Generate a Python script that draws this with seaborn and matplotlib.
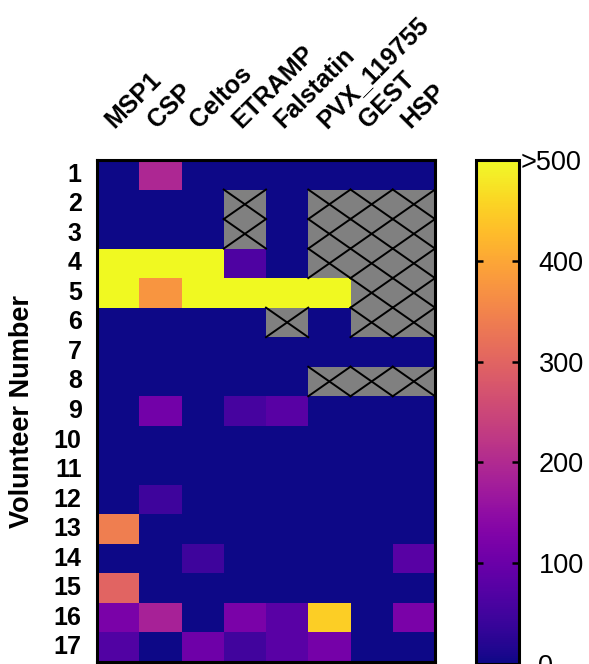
import numpy as np
import pandas as pd
import seaborn as sns
import matplotlib.pyplot as plt
from matplotlib.transforms import ScaledTranslation

plt.rcParams['font.family'] = ['Liberation Sans', 'DejaVu Sans']

antigens = ['MSP1', 'CSP', 'Celtos', 'ETRAMP', 'Falstatin', 'PVX_119755', 'GEST', 'HSP']
volunteers = [str(i) for i in range(1, 18)]
nan = np.nan

# one list per antigen, volunteers 1-17 (500 = ">500", nan = not tested)
msp1 = [0, 0, 0, 500, 500, 0, 0, 0, 0, 0, 0, 0, 340, 0, 300, 120, 70]
csp = [195, 0, 0, 500, 375, 0, 0, 0, 110, 0, 0, 45, 0, 0, 0, 185, 0]
celtos = [0, 0, 0, 500, 500, 0, 0, 0, 0, 0, 0, 0, 0, 45, 0, 0, 105]
etramp = [0, nan, nan, 65, 500, 0, 0, 0, 55, 0, 0, 0, 0, 0, 0, 120, 50]
falstatin = [0, 0, 0, 0, 500, nan, 0, 0, 78, 0, 0, 0, 0, 0, 0, 80, 80]
pvx = [0, nan, nan, nan, 500, 0, 0, nan, 0, 0, 0, 0, 0, 0, 0, 450, 115]
gest = [0, nan, nan, nan, nan, nan, 0, nan, 0, 0, 0, 0, 0, 0, 0, 0, 0]
hsp = [0, nan, nan, nan, nan, nan, 0, nan, 0, 0, 0, 0, 0, 78, 0, 120, 0]

cbar_ticks = [0, 100, 200, 300, 400, 500]
cbar_labels = ['0', '100', '200', '300', '400', '>500']

df = pd.DataFrame(dict(zip(antigens, [msp1, csp, celtos, etramp, falstatin, pvx, gest, hsp])),
                  index=volunteers)

fig = plt.figure(figsize=(5.89, 6.64), dpi=100)
ax = fig.add_axes([97/589, 2/664, 338/589, 502/664])
cax = fig.add_axes([476/589, 0/664, 43/589, 504/664])

sns.heatmap(df, cmap='plasma', vmin=0, vmax=500, ax=ax, cbar_ax=cax,
            mask=df.isna(), cbar_kws={'ticks': cbar_ticks})
ax.set_facecolor('#808080')

# cross out the missing cells
vals = df.to_numpy()
for i in range(vals.shape[0]):
    for j in range(vals.shape[1]):
        if np.isnan(vals[i, j]):
            ax.plot([j, j + 1], [i, i + 1], color='k', lw=1.4)
            ax.plot([j, j + 1], [i + 1, i], color='k', lw=1.4)

for spine in ax.spines.values():
    spine.set_visible(True)
    spine.set_linewidth(2.2)
    spine.set_color('k')

ax.xaxis.tick_top()
ax.set_xticklabels(antigens, rotation=45, ha='left', va='bottom',
                   rotation_mode='anchor', fontweight='bold', fontsize=18)
for lab in ax.get_xticklabels():
    lab.set_transform(lab.get_transform() + ScaledTranslation(0.07, 0, fig.dpi_scale_trans))
ax.set_yticklabels(volunteers, rotation=0, fontweight='bold', fontsize=18)
ax.tick_params(axis='x', length=0, pad=20)
ax.tick_params(axis='y', length=0, pad=11)
ax.set_xlabel('')
ax.set_ylabel('Volunteer Number', fontweight='bold', fontsize=19.5)
ax.yaxis.set_label_coords(-0.183, 0.5)

cbar = ax.collections[0].colorbar
cbar.outline.set_linewidth(2.2)
cbar.outline.set_edgecolor('k')
cax.set_yticks(cbar_ticks)
cax.set_yticklabels(cbar_labels, fontsize=19.5)
cax.tick_params(direction='in', length=5, width=1.8, left=True, right=True, pad=14)
top = cax.get_yticklabels()[-1]
top.set_transform(top.get_transform() + ScaledTranslation(-0.18, 0, fig.dpi_scale_trans))

plt.savefig('out.png', dpi=100)
